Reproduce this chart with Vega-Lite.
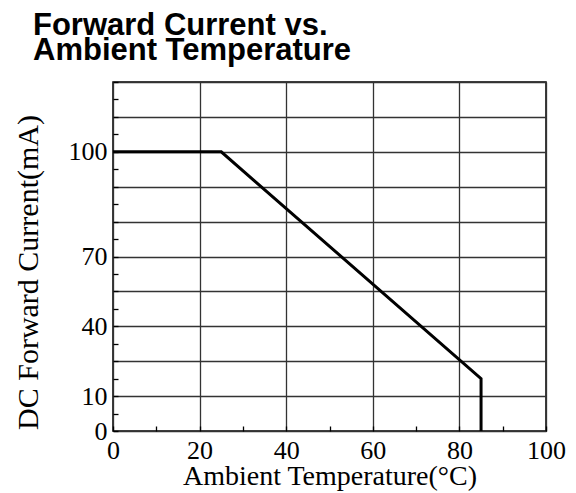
{
  "$schema": "https://vega.github.io/schema/vega-lite/v6.json",
  "width": 433,
  "height": 349,
  "autosize": "none",
  "padding": {"left": 113, "top": 82, "right": 30, "bottom": 62},
  "background": "white",
  "title": {
    "text": ["Forward Current vs.", "Ambient Temperature"],
    "anchor": "start",
    "frame": "group",
    "dx": -80,
    "font": "Liberation Sans",
    "fontSize": 31,
    "fontWeight": "bold",
    "lineHeight": 25,
    "color": "black",
    "offset": 2
  },
  "config": {"view": {"stroke": "black", "strokeWidth": 1.5}},
  "data": {
    "values": [
      {"seq": 1, "temp": 0, "level": 8},
      {"seq": 2, "temp": 25, "level": 8},
      {"seq": 3, "temp": 85, "level": 1.5},
      {"seq": 4, "temp": 85, "level": 0}
    ]
  },
  "mark": {"type": "line", "color": "black", "strokeWidth": 3},
  "encoding": {
    "order": {"field": "seq", "type": "quantitative"},
    "x": {
      "field": "temp",
      "type": "quantitative",
      "scale": {"domain": [0, 100], "nice": false},
      "axis": {
        "values": [0, 10, 20, 30, 40, 50, 60, 70, 80, 90, 100],
        "title": "Ambient Temperature(°C)",
        "grid": true,
        "gridColor": "#333",
        "gridWidth": 1.3,
        "gridOpacity": {"condition": {"test": "datum.value % 20 != 0", "value": 0}, "value": 1},
        "domain": false,
        "ticks": true,
        "tickSize": -5,
        "tickColor": "black",
        "tickWidth": 1.3,
        "labelExpr": "datum.value % 20 == 0 ? datum.label : ''",
        "labelFlush": false,
        "labelOverlap": false,
        "labelFont": "Liberation Serif",
        "labelFontSize": 26,
        "labelColor": "black",
        "labelPadding": 11,
        "titleFont": "Liberation Serif",
        "titleFontSize": 28,
        "titleFontWeight": "normal",
        "titleColor": "black",
        "titleY": 53,
        "titleBaseline": "alphabetic"
      }
    },
    "y": {
      "field": "level",
      "type": "quantitative",
      "scale": {"domain": [0, 10], "nice": false},
      "axis": {
        "values": [0, 0.5, 1, 1.5, 2, 2.5, 3, 3.5, 4, 4.5, 5, 5.5, 6, 6.5, 7, 7.5, 8, 8.5, 9, 9.5, 10],
        "title": "DC Forward Current(mA)",
        "grid": true,
        "gridColor": "#333",
        "gridWidth": 1.3,
        "gridOpacity": {"condition": {"test": "datum.value % 1 != 0", "value": 0}, "value": 1},
        "domain": false,
        "ticks": true,
        "tickSize": -5,
        "tickColor": "black",
        "tickWidth": 1.3,
        "labelExpr": "datum.value == 0 ? '0' : datum.value == 1 ? '10' : datum.value == 3 ? '40' : datum.value == 5 ? '70' : datum.value == 8 ? '100' : ''",
        "labelFlush": false,
        "labelOverlap": false,
        "labelFont": "Liberation Serif",
        "labelFontSize": 26,
        "labelColor": "black",
        "labelPadding": 11,
        "titleFont": "Liberation Serif",
        "titleFontSize": 30,
        "titleFontWeight": "normal",
        "titleColor": "black",
        "titleX": -76,
        "titleY": 190,
        "titleAngle": -90,
        "titleBaseline": "alphabetic",
        "titleAlign": "center"
      }
    }
  }
}
